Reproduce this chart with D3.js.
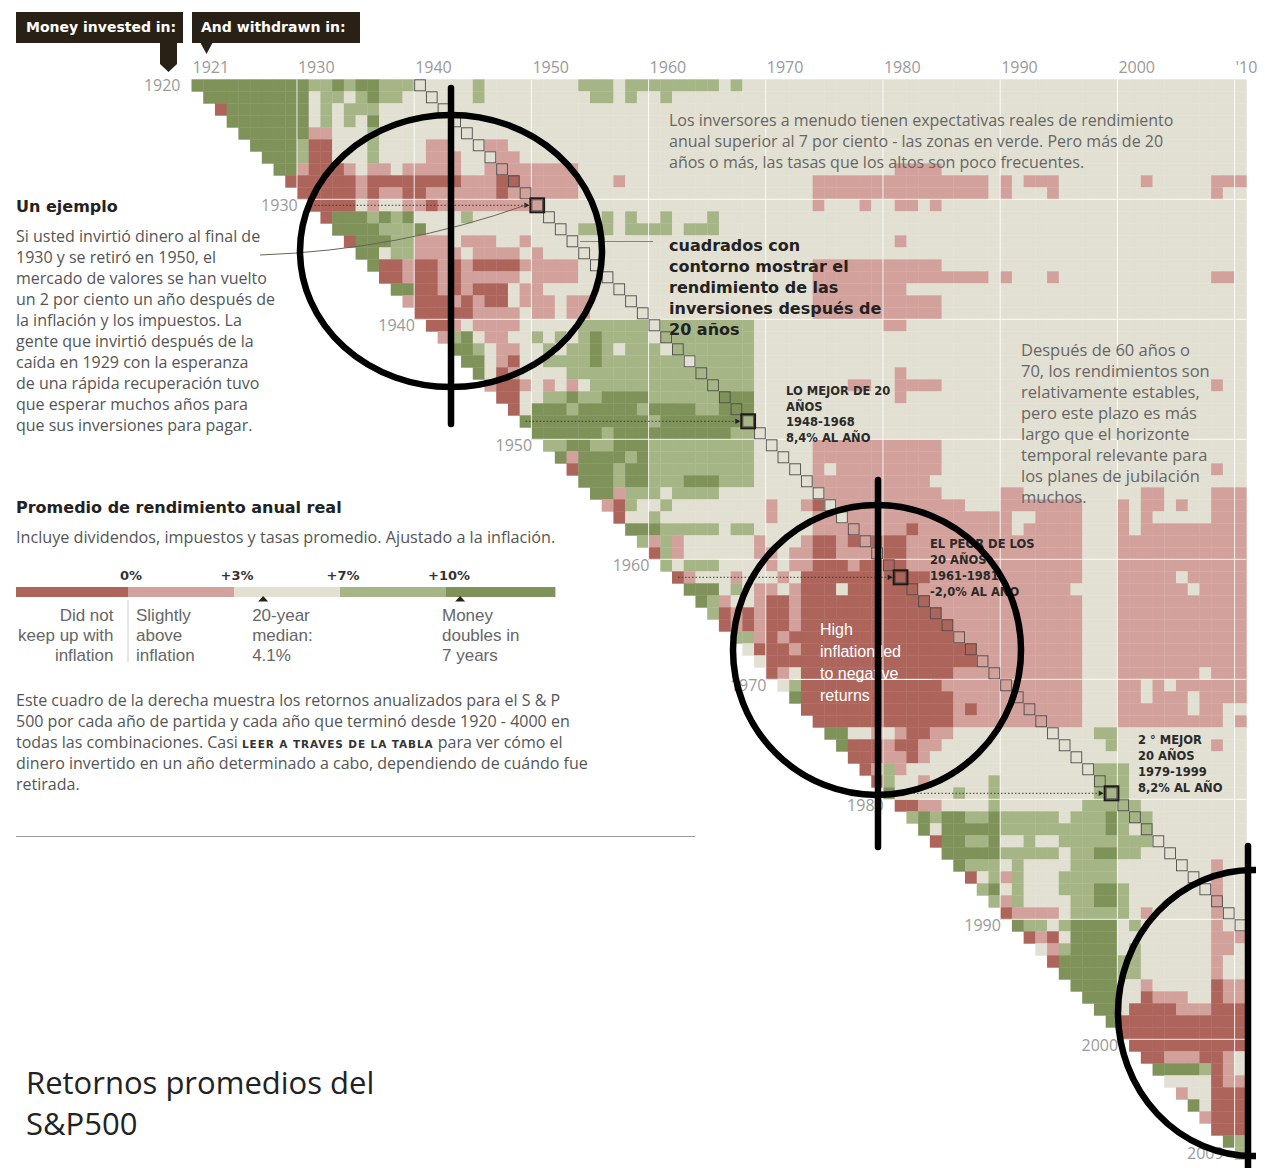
<!DOCTYPE html>
<html>
<head>
<meta charset="utf-8">
<script src="https://cdn.jsdelivr.net/npm/d3@7"></script>
<style>
  body { margin: 0; background: #fff; }
  svg { display: block; font-family: "Open Sans", sans-serif; }
</style>
</head>
<body>
<svg id="chart" width="1265" height="1168"></svg>
<script>
// Rows = year money went in, columns = year it came out
const startYears = d3.range(1920, 2010);
const endYears = d3.range(1921, 2011);

// Real annualized return class for each start year, from the next year up to 2010.
// 0 = below 0%, 1 = 0-3%, 2 = 3-7%, 3 = 7-10%, 4 = above 10%
// spaces split decades (1921-30, 1931-40 ...), "|" splits 30-year blocks
const returnRows = [
  "4444444444 3343443332 2222322222|2223332333 3333323222 2222222222|2222222222 2222222222 2222222222", // 1920
  "444444444 2332343322 2222322222|2222332322 3222222222 2222222222|2222222222 2222222222 2222222222",
  "04444444 2323332222 2222222222|2222222222 2222222222 2222222222|2222222222 2222222222 2222222222",
  "4444444 2323242222 2222222222|2222222222 2222222222 2222222222|2222222222 2222222222 2222222222",
  "444444 1122232222 2222222222|2222222222 2222222222 2222222222|2222222222 2222222222 2222222222",
  "44443 0022232222 1122211222|2222222222 2222222222 2222222222|2222222222 2222222222 2222222222",
  "4443 0022232222 1112221122|2222222222 2222222222 2222222222|2222222222 2222222222 2222222222",
  "441 0001211211 1112211111|1112222222 2222222222 2222222222|1111222222 2222222222 2222222222",
  "00 0000100000 0001110011|1112221222 2222222222 2221111111|1111111121 2111222222 2122222111",
  "0 0000101100 1111110111|1112222222 2222222222 2221111111|1111111121 2221222222 2222222122",
  "0000212211 0111111111|2222222222 2222222222 2221222122|1121222222 2222222222 2222222222", // 1930
  "044434342 2223222222|2222232322 3222322222 2222222222|2222222222 2222222222 2222222222",
  "44443334 2222222222|2223332333 3233322222 2222222222|2222222222 2222222222 2222222222",
  "0444331 1121112212|2222222222 2222222222 2222222222|1222222222 2222222222 2222222222",
  "442331 1112111121|2222222222 2222222222 2222222222|2222222222 2222222222 2222222222",
  "40010 0101000011|1112222222 2222222222 2221111111|1111222222 2222222222 2222222222",
  "0010 0101111121|1112222222 2222222222 2221111111|1111111121 2221222222 2222222112",
  "440 0101000211|2222222222 2222222222 2221111111|1222222222 2222222222 2222222222",
  "10 0010100211|1211222222 2222222222 2221111111|1111222222 2222222222 2222222222",
  "0 0000111121|1211222222 2222222222 2221111111|1111222222 2222222222 2222222222",
  "0012111122|2223333332 3333333322 2222222221|1222222222 2222222222 2222222222", // 1940
  "134211223|2323433332 3333333322 2222222222|2222222222 2222222222 2222222222",
  "44321122|3233432333 2333333322 2222222222|2222222222 2222222222 2222222222",
  "4421022|3333433333 3323333322 2222222222|2222222222 2222222222 2222222222",
  "420122|2233333333 3333333322 2222222222|1222222222 2222222222 2222222222",
  "10012|1212333333 3333333322 2222221122|1111222222 2222222222 2222222122",
  "0022|3343344443 3333344422 2222222222|1222222222 2222222222 2222222222",
  "024|4434444434 4443344422 2222222222|2222222222 2222222222 2222222222",
  "44|4444444443 4444444322 2222222222|2222222222 2222222222 2222222222",
  "4|4444434444 4444443322 2222222222|2222222222 2222222222 2222222222",
  "3344334443 3333333322 2221111111|1111222222 2222222222 2222222222", // 1950
  "414444343 3333333322 2221111111|1111222222 2222222222 2222222222",
  "04443443 3333333322 2221211111|1111222222 2222222222 2222222122",
  "4443443 3344433322 2221111111|1112222222 2222222222 2222222222",
  "441333 2333322222 2222111111|1111222221 1222222222 2112222111",
  "10322 3222222221 2210211111|1111112221 1111112221 2112122111",
  "0223 2222222221 2221121111|1111111111 2211112221 2122222111",
  "444 3333323322 2221111111|1011111111 2111112221 2111111111",
  "31 3122222212 2210010100|0111111111 1111112221 1111111111",
  "0 3122222211 2110011110|0111111111 1111112221 1111111111",
  "3233322221 2110001000|0111111111 1111112221 1111111111", // 1960
  "012221222 1200000000|0001111111 1111112221 1111211111",
  "44423211 2100020000|0011111111 1111122221 1111121111",
  "4312210 0100000000|0001111111 1111112221 1111111111",
  "301010 0100000000|0000111111 1111112221 1111111111",
  "01010 0100000000|0000011111 1111112221 1111111111",
  "3310 1000000000|0000011111 1111112221 1111111111",
  "200 0100000000|0000000111 1111112221 1111111111",
  "20 0000000000|0000000111 1111112221 1111111111",
  "0 1200000000|0000011111 1111112221 1111112111",
  "2300000000|0000111111 1111112221 1212111111", // 1970
  "400000000|0000011111 1111112221 1211121111",
  "00000000|0000010111 1111112221 1111121122",
  "0000000|0000011111 1111112221 1111111121",
  "442212|1001122222 2222222332 2222222222",
  "40001|0011222222 2222222232 2222222122",
  "0001|1012222222 2222222222 2222222222",
  "013|1222222222 2222222333 2222222222",
  "03|2212222232 2222222333 2222222222",
  "4|2222232232 2222222333 2222222222",
  "0011222232 2222223333 3222222222", // 1980
  "343443343 3333233343 3322222222",
  "42444443 3333333343 2322222222",
  "0443342 2322333333 3322222222",
  "444443 3333233443 3222222222",
  "43332 3222233332 2222222122",
  "0231 3222333332 2222222122",
  "342 3222333443 2222222122",
  "31 3222233443 2222222122",
  "0 1111233333 2122222122",
  "4332344442 3222222122", // 1990
  "010244442 2222222111",
  "21344442 3222222112",
  "0444443 3222222122",
  "444443 3222222122",
  "44442 2122222011",
  "4442 2011122011",
  "442 0000111000",
  "40 0000000000",
  "0 0000000000",
  "0000000000", // 2000
  "001110012",
  "44443012",
  "2222011",
  "122000",
  "42000",
  "1000",
  "000",
  "43",
  "3"
];

const categoryColors = ["#ac645b", "#d3a19b", "#e2e0d2", "#a6b586", "#7e9259"];
const legendTicks = [0, 3, 7, 10];
const legendTickLabels = ["0%", "+3%", "+7%", "+10%"];
const legendMarkers = [4.1, 10.4];
const legendNotes = [
  ["Did not", "keep up with", "inflation"],
  ["Slightly", "above", "inflation"],
  ["20-year", "median:", "4.1%"],
  ["Money", "doubles in", "7 years"]
];

const colLabelYears = [1921, 1930, 1940, 1950, 1960, 1970, 1980, 1990, 2000, 2010];
const colLabels = ["1921", "1930", "1940", "1950", "1960", "1970", "1980", "1990", "2000", "'10"];
const rowLabelYears = [1920, 1930, 1940, 1950, 1960, 1970, 1980, 1990, 2000, 2009];
const decadeYears = [1930, 1940, 1950, 1960, 1970, 1980, 1990, 2000, 2010];
const highlightStarts = [1930, 1948, 1961, 1979];

const FONT_BOLD = "'DejaVu Sans', sans-serif";
const FONT_ARIAL = "'Liberation Sans', sans-serif";

const svg = d3.select("#chart");

const x = d3.scaleBand().domain(endYears).range([191.5, 1246.3]);
const y = d3.scaleBand().domain(startYears).range([79.3, 1159.3]);
const color = d3.scaleOrdinal().domain([0, 1, 2, 3, 4]).range(categoryColors);
const bw = x.bandwidth(), bh = y.bandwidth();

// build the cell list from the row strings
const cells = [];
returnRows.forEach((row, i) => {
  const start = startYears[i];
  row.replace(/[ |]/g, "").split("").forEach((c, j) => {
    const end = start + 1 + j;
    if (end <= 2010) cells.push({ start, end, cat: +c });
  });
});

svg.append("g")
  .selectAll("rect")
  .data(cells)
  .join("rect")
  .attr("x", d => x(d.end))
  .attr("y", d => y(d.start))
  .attr("width", bw + 0.4)
  .attr("height", bh + 0.4)
  .attr("fill", d => color(d.cat));

// thin white decade lines across the grid
const grid = svg.append("g")
  .attr("stroke", "#fff")
  .attr("stroke-opacity", 0.85)
  .attr("stroke-width", 1);

grid.selectAll("line.v")
  .data(decadeYears)
  .join("line")
  .attr("class", "v")
  .attr("x1", d => x(d)).attr("x2", d => x(d))
  .attr("y1", y(1920)).attr("y2", d => y(d - 1) + bh);

grid.selectAll("line.h")
  .data(decadeYears.filter(d => d < 2010))
  .join("line")
  .attr("class", "h")
  .attr("x1", d => x(d)).attr("x2", x(2010) + bw)
  .attr("y1", d => y(d)).attr("y2", d => y(d));

// 20-year outlined squares
const twenty = startYears.filter(s => s + 20 <= 2010);
svg.append("g")
  .selectAll("rect")
  .data(twenty)
  .join("rect")
  .attr("x", s => x(s + 20) + 0.5)
  .attr("y", s => y(s) + 0.5)
  .attr("width", bw - 1)
  .attr("height", bh - 1)
  .attr("fill", "none")
  .attr("stroke", "#4a4a4a")
  .attr("stroke-width", 0.9);

// dotted leaders to the highlighted squares
const lead = svg.append("g");
lead.selectAll("line")
  .data(highlightStarts)
  .join("line")
  .attr("x1", s => x(s + 1) + 6)
  .attr("x2", s => x(s + 20) - 6)
  .attr("y1", s => y(s) + bh / 2)
  .attr("y2", s => y(s) + bh / 2)
  .attr("stroke", "#3a3a3a")
  .attr("stroke-width", 1)
  .attr("stroke-dasharray", "1.5,2");

lead.selectAll("path.arrow")
  .data(highlightStarts)
  .join("path")
  .attr("class", "arrow")
  .attr("d", "M-5,-2.8L0,0L-5,2.8Z")
  .attr("fill", "#222")
  .attr("transform", s => `translate(${x(s + 20) - 2},${y(s) + bh / 2})`);

lead.selectAll("rect")
  .data(highlightStarts)
  .join("rect")
  .attr("x", s => x(s + 20) - 1)
  .attr("y", s => y(s) - 1)
  .attr("width", bw + 2)
  .attr("height", bh + 2)
  .attr("fill", "none")
  .attr("stroke", "#1e1a14")
  .attr("stroke-width", 2);

// curved pointer from the example text
svg.append("path")
  .attr("d", "M260,255 Q400,250 526,205")
  .attr("fill", "none")
  .attr("stroke", "#6b6358")
  .attr("stroke-width", 1);

svg.append("line")
  .attr("x1", 580).attr("x2", 653)
  .attr("y1", 241.5).attr("y2", 241.5)
  .attr("stroke", "#8a8478").attr("stroke-width", 1);

svg.append("line")
  .attr("x1", 793).attr("x2", 932)
  .attr("y1", 679.5).attr("y2", 679.5)
  .attr("stroke", "#fff").attr("stroke-width", 1.2);

// axis labels
svg.append("g")
  .selectAll("text")
  .data(colLabelYears)
  .join("text")
  .attr("x", d => x(d) + 1)
  .attr("y", 73)
  .attr("font-size", 16)
  .attr("fill", "#9a9a9a")
  .text((d, i) => colLabels[i]);

svg.append("g")
  .selectAll("text")
  .data(rowLabelYears)
  .join("text")
  .attr("x", d => x(d + 1) - 11)
  .attr("y", d => y(d) + bh / 2 + 6)
  .attr("text-anchor", "end")
  .attr("font-size", 16)
  .attr("fill", "#9a9a9a")
  .text(d => d);

// header tags
const tagG = svg.append("g").attr("fill", "#2a2116");
tagG.append("rect").attr("x", 16).attr("y", 12).attr("width", 167).attr("height", 31);
tagG.append("path").attr("d", "M160,42L177,42L177,64L168.5,72L160,64Z");
tagG.append("rect").attr("x", 192).attr("y", 12).attr("width", 168).attr("height", 31);
tagG.append("path").attr("d", "M200,42L213,42L206.5,54Z");
svg.append("text").attr("x", 26).attr("y", 32).attr("font-family", FONT_BOLD)
  .attr("font-weight", "bold").attr("font-size", 14).attr("fill", "#fff").text("Money invested in:");
svg.append("text").attr("x", 201).attr("y", 32).attr("font-family", FONT_BOLD)
  .attr("font-weight", "bold").attr("font-size", 14).attr("fill", "#fff").text("And withdrawn in:");

// helper for stacked lines of text
function lines(list, x0, y0, step, attrs) {
  const t = svg.append("text").attr("x", x0).attr("y", y0);
  Object.entries(attrs).forEach(([k, v]) => t.attr(k, v));
  list.forEach((s, i) => t.append("tspan").attr("x", x0).attr("y", y0 + i * step).text(s));
  return t;
}

const greyText = { "font-size": 16, fill: "#555" };
const boldHead = { "font-family": FONT_BOLD, "font-weight": "bold", "font-size": 16, fill: "#222" };
const capsNote = { "font-family": FONT_BOLD, "font-weight": "bold", "font-size": 11.5, fill: "#2a2a2a" };

// left column
lines(["Un ejemplo"], 16, 212, 0, boldHead);
lines([
  "Si usted invirtió dinero al final de",
  "1930 y se retiró en 1950, el",
  "mercado de valores se han vuelto",
  "un 2 por ciento un año después de",
  "la inflación y los impuestos. La",
  "gente que invirtió después de la",
  "caída en 1929 con la esperanza",
  "de una rápida recuperación tuvo",
  "que esperar muchos años para",
  "que sus inversiones para pagar."
], 16, 242, 21, greyText);

lines(["Promedio de rendimiento anual real"], 16, 513, 0, boldHead);
lines(["Incluye dividendos, impuestos y tasas promedio. Ajustado a la inflación."], 16, 543, 0,
  { "font-size": 16.2, fill: "#555" });

// legend
const legendEdge = d3.scaleLinear().domain([0, legendTicks.length]).range([128, 552]);
const legendPct = d3.scaleLinear().domain(legendTicks).range(legendTicks.map((d, i) => legendEdge(i)));
const bandEdges = [16, ...legendTicks.map((d, i) => legendEdge(i)), 555];

svg.append("g")
  .selectAll("rect")
  .data(d3.range(5))
  .join("rect")
  .attr("x", d => bandEdges[d])
  .attr("y", 587)
  .attr("width", d => bandEdges[d + 1] - bandEdges[d] + 0.4)
  .attr("height", 10)
  .attr("fill", d => color(d));

svg.append("g")
  .selectAll("text")
  .data(legendTicks)
  .join("text")
  .attr("x", d => legendPct(d) + 3)
  .attr("y", 580)
  .attr("text-anchor", "middle")
  .attr("font-family", FONT_BOLD)
  .attr("font-weight", "bold")
  .attr("font-size", 13)
  .attr("fill", "#333")
  .text((d, i) => legendTickLabels[i]);

svg.append("g")
  .selectAll("path")
  .data(legendMarkers)
  .join("path")
  .attr("d", "M-5,0L0,-5.5L5,0Z")
  .attr("fill", "#2a2116")
  .attr("transform", d => `translate(${legendPct(d)},601.5)`);

svg.append("line")
  .attr("x1", legendPct(0)).attr("x2", legendPct(0))
  .attr("y1", 600).attr("y2", 662)
  .attr("stroke", "#ccc").attr("stroke-width", 1);

const noteText = { "font-family": FONT_ARIAL, "font-size": 17, fill: "#666" };
lines(legendNotes[0], legendPct(0) - 14.5, 621, 20, Object.assign({ "text-anchor": "end" }, noteText));
lines(legendNotes[1], legendPct(0) + 8, 621, 20, noteText);
lines(legendNotes[2], legendPct(legendMarkers[0]) - 11, 621, 20, noteText);
lines(legendNotes[3], legendPct(10) - 4, 621, 20, noteText);

// description paragraph with the small-caps phrase
const para = [
  "Este cuadro de la derecha muestra los retornos anualizados para el S & P",
  "500 por cada año de partida y cada año que terminó desde 1920 - 4000 en",
  null,
  "dinero invertido en un año determinado a cabo, dependiendo de cuándo fue",
  "retirada."
];
para.forEach((s, i) => {
  const t = svg.append("text").attr("x", 16).attr("y", 705.5 + i * 21)
    .attr("font-size", 16).attr("fill", "#555");
  if (s !== null) { t.text(s); return; }
  t.append("tspan").text("todas las combinaciones. Casi  ");
  t.append("tspan").attr("font-family", FONT_BOLD).attr("font-weight", "bold")
    .attr("font-size", 10.5).attr("letter-spacing", 0.9).attr("fill", "#333")
    .text("LEER A TRAVES DE LA TABLA");
  t.append("tspan").text("  para ver cómo el");
});

svg.append("line")
  .attr("x1", 16).attr("x2", 695).attr("y1", 836.5).attr("y2", 836.5)
  .attr("stroke", "#999").attr("stroke-width", 1);

lines(["Retornos promedios del", "S&P500"], 26, 1093.5, 41.5,
  { "font-size": 31, fill: "#222" });

// annotations on the grid
lines([
  "Los inversores a menudo tienen expectativas reales de rendimiento",
  "anual superior al 7 por ciento - las zonas en verde. Pero más de 20",
  "años o más, las tasas que los altos son poco frecuentes."
], 669, 125.5, 21, { "font-size": 16, fill: "#666" });

lines([
  "cuadrados con",
  "contorno mostrar el",
  "rendimiento de las",
  "inversiones después de",
  "20 años"
], 669, 251, 21, boldHead);

lines(["LO MEJOR DE 20", "AÑOS", "1948-1968", "8,4% AL AÑO"], 786, 395, 15.5, capsNote);

lines([
  "Después de 60 años o",
  "70, los rendimientos son",
  "relativamente estables,",
  "pero este plazo es más",
  "largo que el horizonte",
  "temporal relevante para",
  "los planes de jubilación",
  "muchos."
], 1021, 356, 21, { "font-size": 16.5, fill: "#666" });

lines(["EL PEOR DE LOS", "20 AÑOS", "1961-1981", "-2,0% AL AÑO"], 930, 548, 16, capsNote);

lines(["High", "inflation led", "to negative", "returns"], 820, 635, 22,
  { "font-family": FONT_ARIAL, "font-size": 16, fill: "#fff" });

lines(["2 ° MEJOR", "20 AÑOS", "1979-1999", "8,2% AL AÑO"], 1138, 744, 16, capsNote);

// hand-drawn style circles and bars on top
const defs = svg.append("defs");
defs.append("clipPath").attr("id", "clipRight")
  .append("rect").attr("x", 0).attr("y", 0).attr("width", 1256).attr("height", 1168);

const ink = svg.append("g")
  .attr("fill", "none")
  .attr("stroke", "#000")
  .attr("stroke-width", 6.5)
  .attr("stroke-linecap", "round");

ink.append("ellipse").attr("cx", 451).attr("cy", 251).attr("rx", 151).attr("ry", 136);
ink.append("line").attr("x1", 451).attr("x2", 451).attr("y1", 88).attr("y2", 424);
ink.append("ellipse").attr("cx", 877).attr("cy", 650).attr("rx", 144).attr("ry", 145);
ink.append("line").attr("x1", 878).attr("x2", 878).attr("y1", 480).attr("y2", 847);
ink.append("ellipse").attr("cx", 1253).attr("cy", 1013).attr("rx", 135).attr("ry", 143)
  .attr("clip-path", "url(#clipRight)");
ink.append("line").attr("x1", 1248).attr("x2", 1248).attr("y1", 846).attr("y2", 1168);
</script>
</body>
</html>
